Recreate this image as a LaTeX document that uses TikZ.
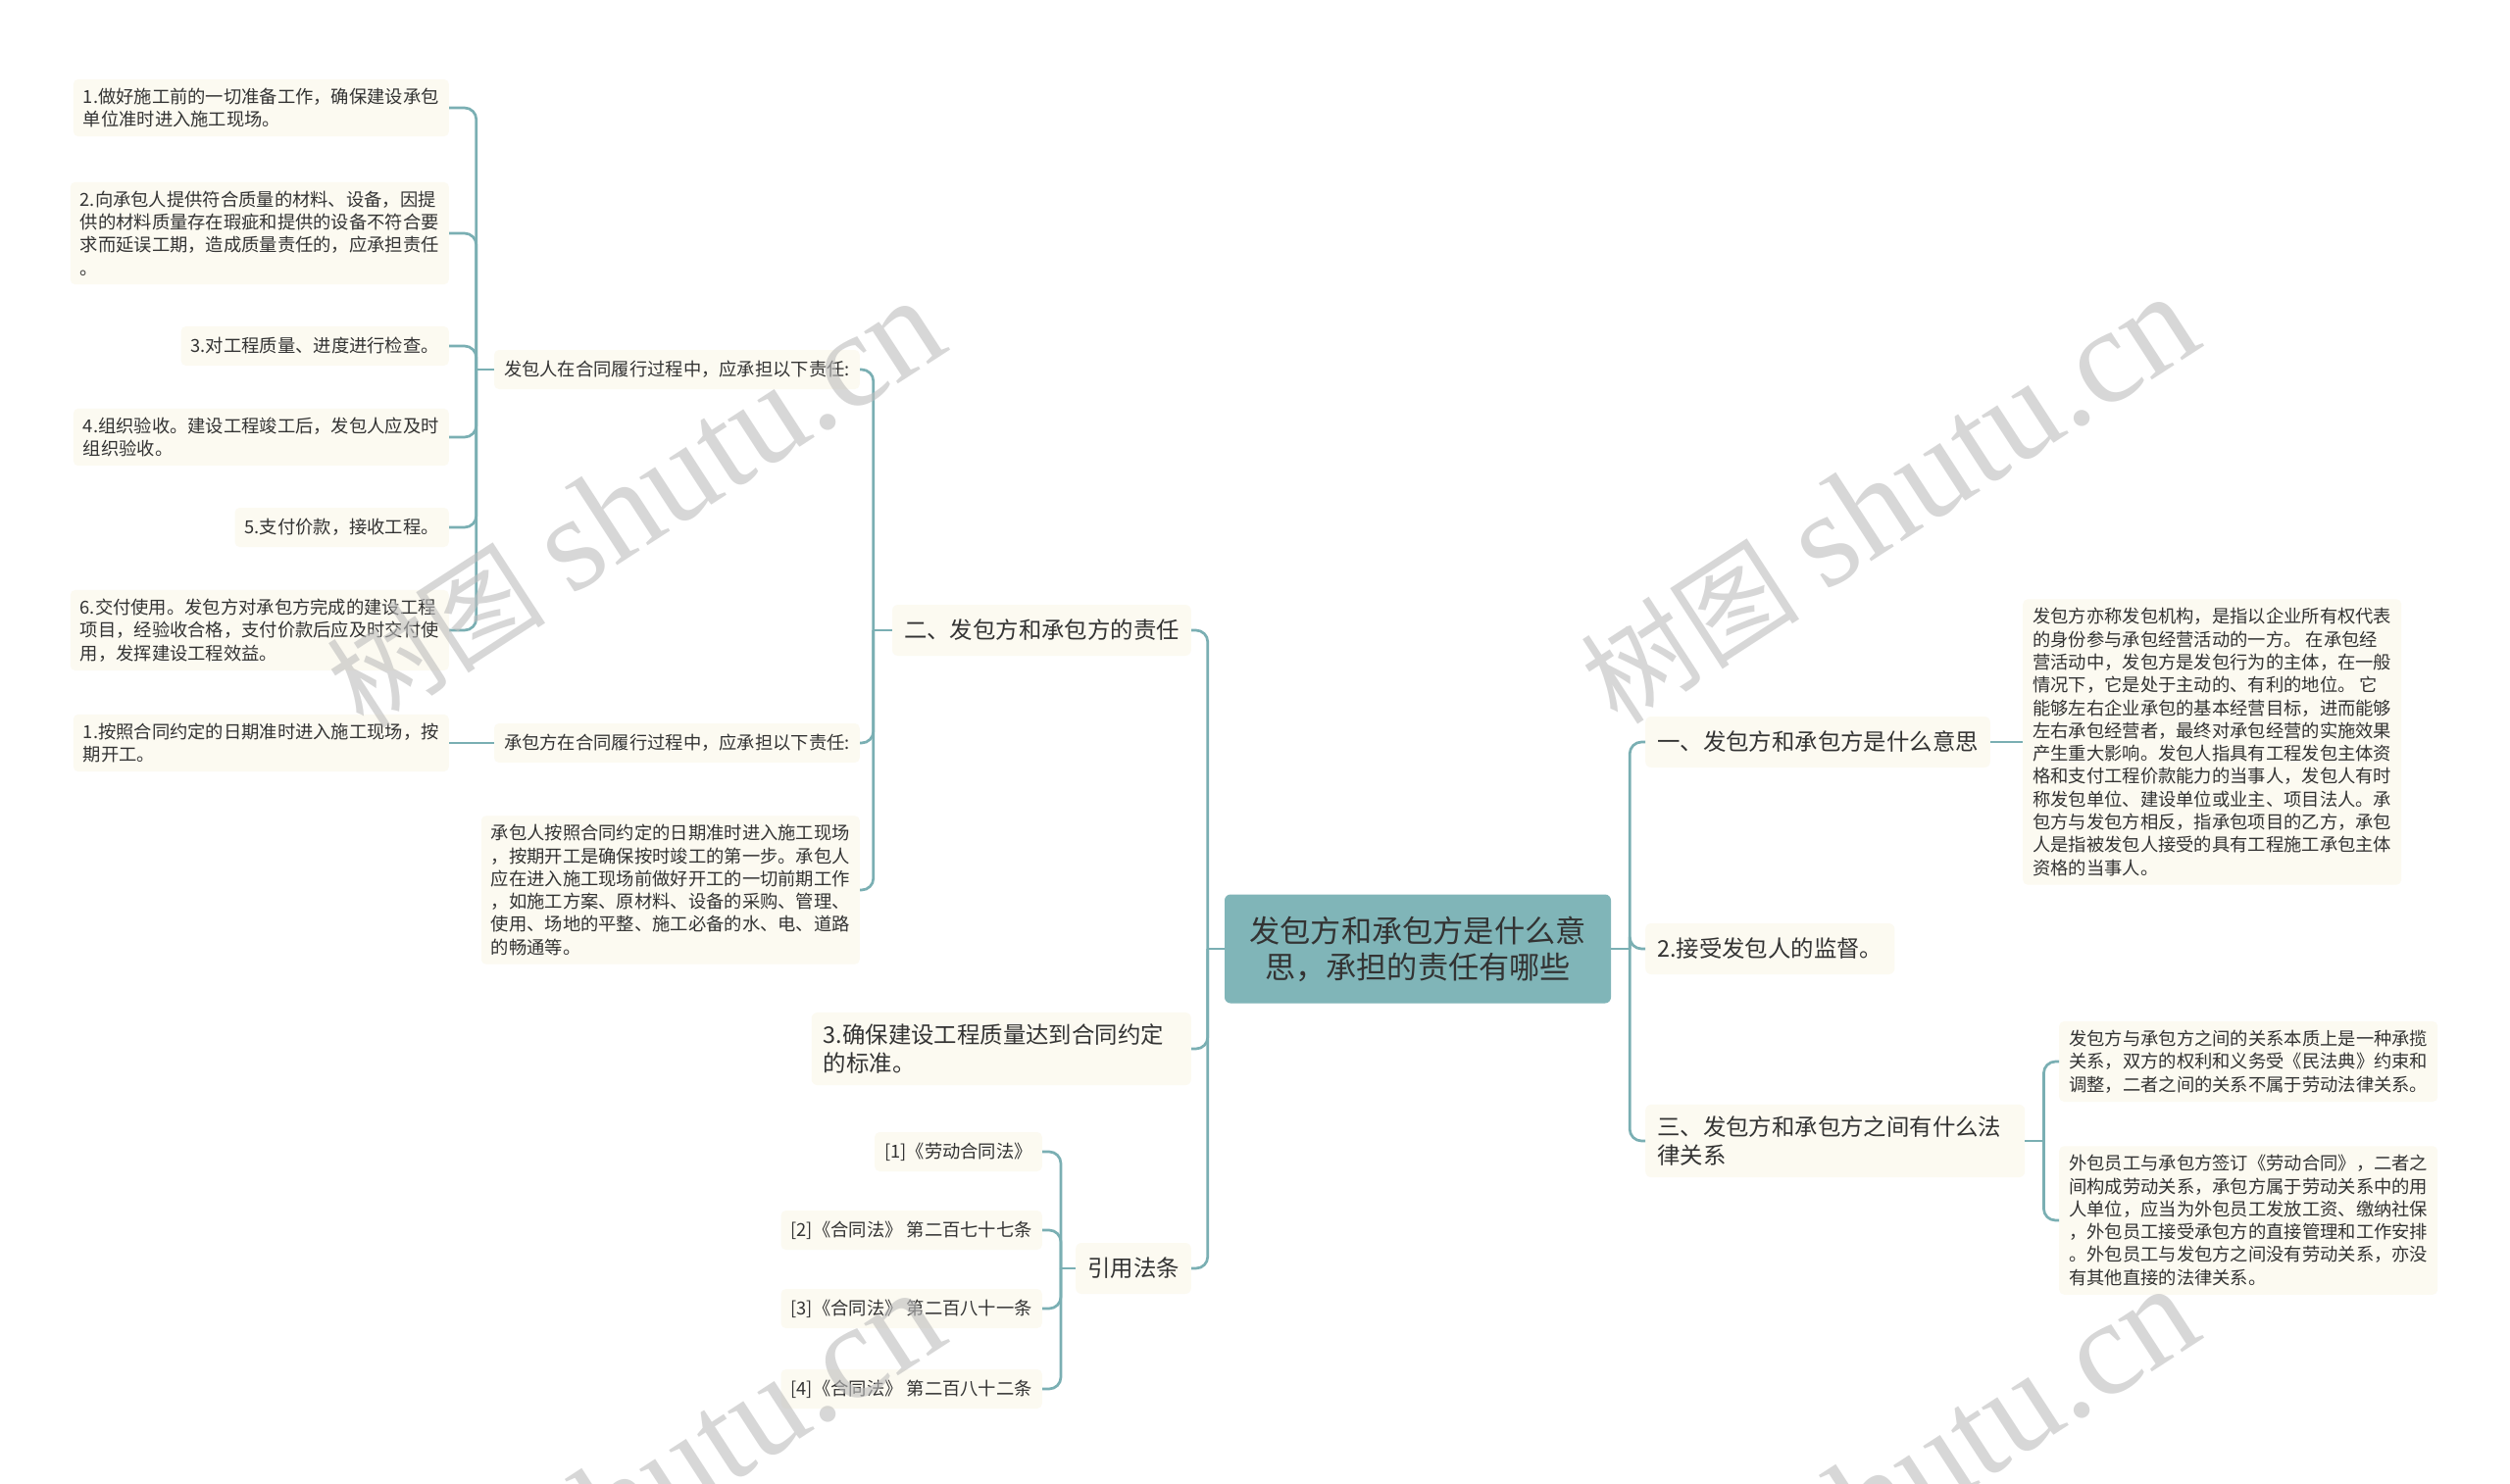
\documentclass[tikz,border=0pt]{standalone}
\usepackage{fontspec}
\setmainfont{Noto Sans CJK SC}
\newfontfamily\wmserif{Liberation Serif}
\definecolor{linkc}{HTML}{7AAFB3}
\definecolor{rootbg}{HTML}{80B5B8}
\definecolor{leafbg}{HTML}{FCFAF1}
\definecolor{txt}{HTML}{333333}
\definecolor{wmgray}{HTML}{BDBDBD}
\newcommand*{\fsz}[2]{\fontsize{#1}{#2}\selectfont}
\tikzset{
  leaf/.style={fill=leafbg,rounded corners=5pt,inner xsep=10pt,inner ysep=9pt,align=left,text=txt,font=\fsz{18.3}{23.3}},
  leafone/.style={leaf,minimum height=40pt},
  topic/.style={fill=leafbg,rounded corners=6pt,inner xsep=12pt,inner ysep=12pt,align=left,text=txt,font=\fsz{23.4}{28.5},minimum height=52pt},
  root/.style={fill=rootbg,rounded corners=6pt,align=center,text=txt,font=\fsz{31.2}{37},minimum width=394pt,minimum height=111pt},
  link/.style={draw=linkc,line width=2.7pt,rounded corners=12pt},
  wmark/.style={text=wmgray,opacity=0.6,rotate=33,inner sep=0pt}
}

\begin{document}
\begin{tikzpicture}[x=1pt,y=-1pt]
\useasboundingbox (0,0) rectangle (2560,1514);
\fill[white] (0,0) rectangle (2560,1514);
\clip (0,0) rectangle (2560,1514);

% Central topic
\node[root] (root) at (1446,968) {发包方和承包方是什么意\\思，承担的责任有哪些};

% Left main branches
\node[topic,anchor=east] (duty) at (1215,643) {二、发包方和承包方的责任};
\node[topic,anchor=east,text width=363pt] (quality) at (1215,1070) {3.确保建设工程质量达到合同约定\\的标准。};
\node[topic,anchor=east] (law) at (1215,1294) {引用法条};

% Duties of both sides
\node[leafone,anchor=east] (faresp) at (877,377) {发包人在合同履行过程中，应承担以下责任:};
\node[leafone,anchor=east] (chresp) at (877,758) {承包方在合同履行过程中，应承担以下责任:};
\node[leaf,anchor=east] (chnote) at (877,908) {承包人按照合同约定的日期准时进入施工现场\\，按期开工是确保按时竣工的第一步。承包人\\应在进入施工现场前做好开工的一切前期工作\\，如施工方案、原材料、设备的采购、管理、\\使用、场地的平整、施工必备的水、电、道路\\的畅通等。};

% Items of the employer
\node[leaf,anchor=east] (fa1) at (458,110) {1.做好施工前的一切准备工作，确保建设承包\\单位准时进入施工现场。};
\node[leaf,anchor=east] (fa2) at (458,238) {2.向承包人提供符合质量的材料、设备，因提\\供的材料质量存在瑕疵和提供的设备不符合要\\求而延误工期，造成质量责任的，应承担责任\\。};
\node[leafone,anchor=east] (fa3) at (458,353) {3.对工程质量、进度进行检查。};
\node[leaf,anchor=east] (fa4) at (458,446) {4.组织验收。建设工程竣工后，发包人应及时\\组织验收。};
\node[leafone,anchor=east] (fa5) at (458,538) {5.支付价款，接收工程。};
\node[leaf,anchor=east] (fa6) at (458,643) {6.交付使用。发包方对承包方完成的建设工程\\项目，经验收合格，支付价款后应及时交付使\\用，发挥建设工程效益。};

% Item of the contractor
\node[leaf,anchor=east] (ch1) at (458,758) {1.按照合同约定的日期准时进入施工现场，按\\期开工。};

% Cited laws
\node[leafone,anchor=east] (law1) at (1063,1175) {[1]《劳动合同法》};
\node[leafone,anchor=east] (law2) at (1063,1255) {[2]《合同法》 第二百七十七条};
\node[leafone,anchor=east] (law3) at (1063,1335) {[3]《合同法》 第二百八十一条};
\node[leafone,anchor=east] (law4) at (1063,1417) {[4]《合同法》 第二百八十二条};

% Right main branches
\node[topic,anchor=west] (meaning) at (1678,757) {一、发包方和承包方是什么意思};
\node[topic,anchor=west] (supervise) at (1678,968) {2.接受发包人的监督。};
\node[topic,anchor=west,text width=363pt] (relation) at (1678,1164) {三、发包方和承包方之间有什么法\\律关系};

\node[leaf,anchor=west] (define) at (2063,757) {发包方亦称发包机构，是指以企业所有权代表\\的身份参与承包经营活动的一方。 在承包经\\营活动中，发包方是发包行为的主体，在一般\\情况下，它是处于主动的、有利的地位。 它\\能够左右企业承包的基本经营目标，进而能够\\左右承包经营者，最终对承包经营的实施效果\\产生重大影响。发包人指具有工程发包主体资\\格和支付工程价款能力的当事人，发包人有时\\称发包单位、建设单位或业主、项目法人。承\\包方与发包方相反，指承包项目的乙方，承包\\人是指被发包人接受的具有工程施工承包主体\\资格的当事人。};
\node[leaf,anchor=west] (rel1) at (2100,1083) {发包方与承包方之间的关系本质上是一种承揽\\关系，双方的权利和义务受《民法典》约束和\\调整，二者之间的关系不属于劳动法律关系。};
\node[leaf,anchor=west] (rel2) at (2100,1245) {外包员工与承包方签订《劳动合同》，二者之\\间构成劳动关系，承包方属于劳动关系中的用\\人单位，应当为外包员工发放工资、缴纳社保\\，外包员工接受承包方的直接管理和工作安排\\。外包员工与发包方之间没有劳动关系，亦没\\有其他直接的法律关系。};

% Connectors on the left
\path (root.west) ++(-17,0) coordinate (jl);
\draw[link] (root.west) -- (jl);
\foreach \c in {duty,quality,law} \draw[link] (jl) |- (\c.east);

\path (duty.west) ++(-19,0) coordinate (jduty);
\draw[link] (duty.west) -- (jduty);
\foreach \c in {faresp,chresp,chnote} \draw[link] (jduty) |- (\c.east);

\path (faresp.west) ++(-18,0) coordinate (jfa);
\draw[link] (faresp.west) -- (jfa);
\foreach \c in {fa1,fa2,fa3,fa4,fa5,fa6} \draw[link] (jfa) |- (\c.east);

\draw[link] (chresp.west) -- (ch1.east);

\path (law.west) ++(-15,0) coordinate (jlaw);
\draw[link] (law.west) -- (jlaw);
\foreach \c in {law1,law2,law3,law4} \draw[link] (jlaw) |- (\c.east);

% Connectors on the right
\path (root.east) ++(19,0) coordinate (jr);
\draw[link] (root.east) -- (jr);
\foreach \c in {meaning,supervise,relation} \draw[link] (jr) |- (\c.west);

\draw[link] (meaning.east) -- (define.west);

\path (relation.east) ++(19,0) coordinate (jrel);
\draw[link] (relation.east) -- (jrel);
\foreach \c in {rel1,rel2} \draw[link] (jrel) |- (\c.west);

% Watermarks
\foreach \wx/\wy [count=\i] in {648/514,1927/510,648/1526,1927/1522}
  \node[wmark] (wm\i) at (\wx,\wy) {{\fsz{112}{112}树图}\hspace{28pt}{\wmserif\fsz{138}{138}shutu.cn}};
\end{tikzpicture}
\end{document}
